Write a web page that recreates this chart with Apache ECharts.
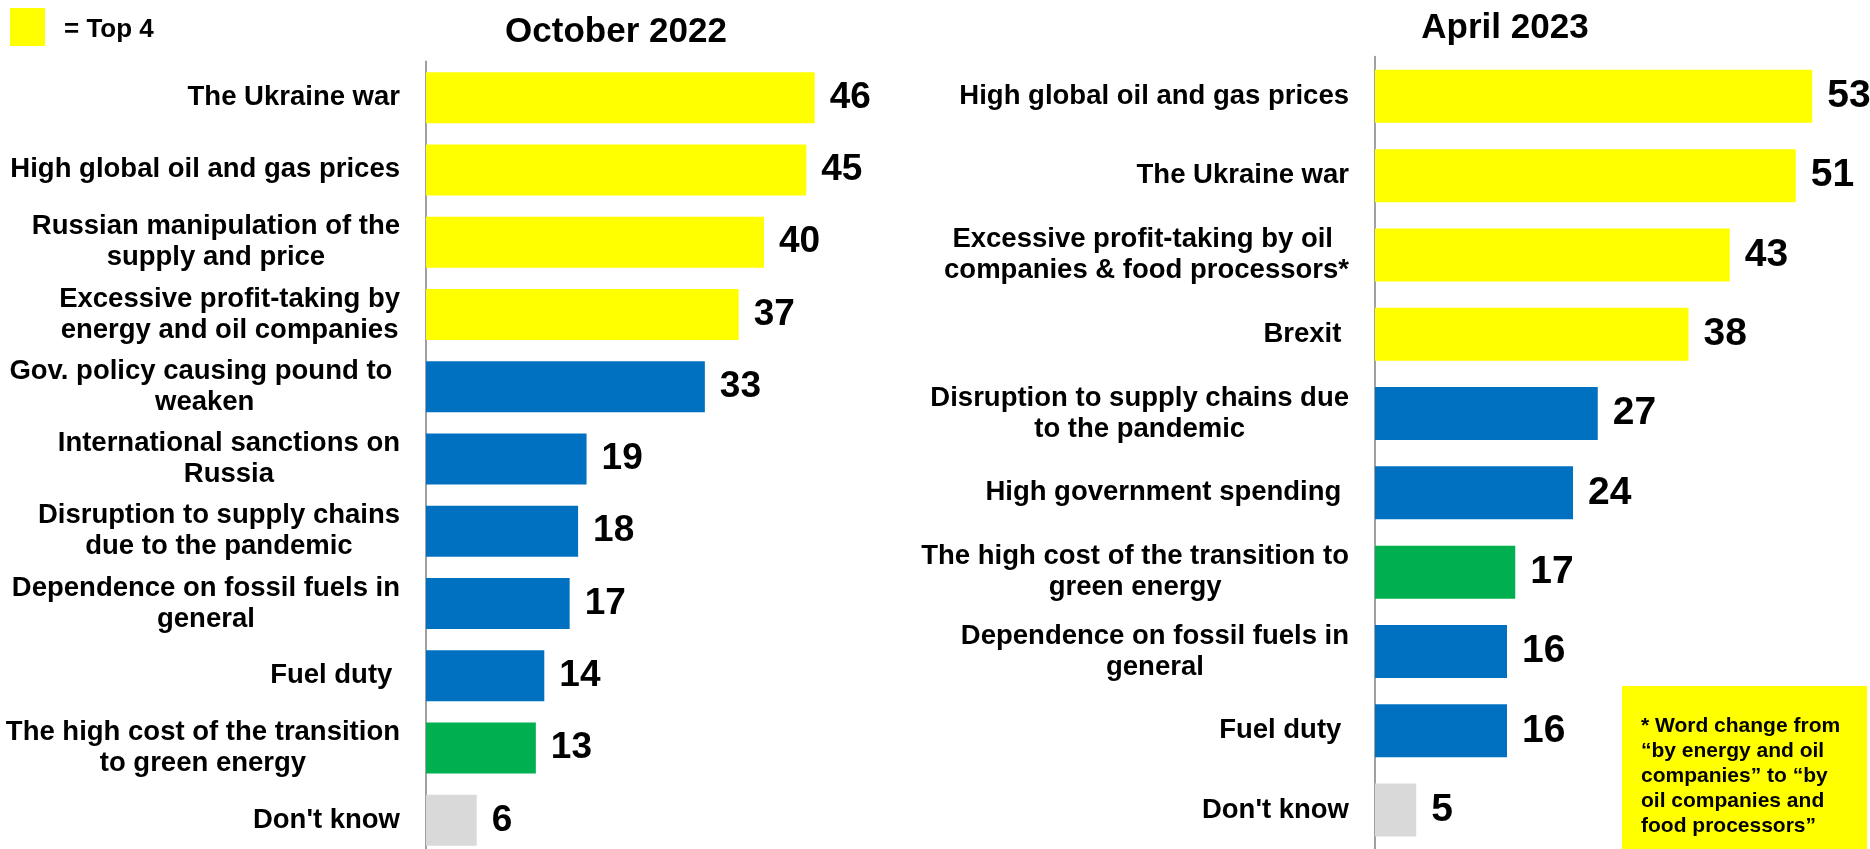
<!DOCTYPE html>
<html>
<head>
<meta charset="utf-8">
<script src="https://cdn.jsdelivr.net/npm/echarts@6/dist/echarts.min.js"></script>
<style>
    html, body { margin: 0; padding: 0; background: #fff; }
    #chart { width: 1870px; height: 849px; }
</style>
</head>
<body>
<div id="chart"></div>
<script>
// October 2022 wave
const octCategories = [
    'The Ukraine war',
    'High global oil and gas prices',
    'Russian manipulation of the\nsupply and price',
    'Excessive profit-taking by\nenergy and oil companies',
    'Gov. policy causing pound to \nweaken',
    'International sanctions on\nRussia',
    'Disruption to supply chains\ndue to the pandemic',
    'Dependence on fossil fuels in\ngeneral',
    'Fuel duty ',
    'The high cost of the transition\nto green energy',
    "Don't know"
]
const octValues = [46, 45, 40, 37, 33, 19, 18, 17, 14, 13, 6]

// April 2023 wave
const aprCategories = [
    'High global oil and gas prices',
    'The Ukraine war',
    'Excessive profit-taking by oil \ncompanies & food processors*',
    'Brexit ',
    'Disruption to supply chains due\nto the pandemic',
    'High government spending ',
    'The high cost of the transition to\ngreen energy',
    'Dependence on fossil fuels in\ngeneral',
    'Fuel duty ',
    "Don't know"
]
const aprValues = [53, 51, 43, 38, 27, 24, 17, 16, 16, 5]

const noteText = '* Word change from\n“by energy and oil\ncompanies” to “by\noil companies and\nfood processors”'

const FONT = "'Liberation Sans', Arial, sans-serif"

const barColor = (name, idx) => {
    if (idx < 4) return '#ffff00'
    if (name.indexOf('green energy') >= 0) return '#00b050'
    if (name.indexOf("Don't know") >= 0) return '#d9d9d9'
    return '#0070c0'
}

const centeredLines = v => v.split('\n').map(l => '{c|' + l + '}').join('\n')

const makeY = (cats, idx) => ({
    type: 'category',
    gridIndex: idx,
    inverse: true,
    data: cats,
    axisTick: { show: false },
    axisLine: { show: true, lineStyle: { color: '#a0a0a0', width: 2 } },
    axisLabel: {
        margin: 26,
        formatter: centeredLines,
        rich: {
            c: {
                align: 'center',
                fontFamily: FONT,
                fontWeight: 'bold',
                fontSize: 27.5,
                lineHeight: 31,
                color: '#000'
            }
        }
    }
})

const makeX = idx => ({
    type: 'value',
    gridIndex: idx,
    min: 0,
    max: 60,
    show: false,
    splitLine: { show: false }
})

const makeSeries = (cats, vals, idx, barW, labelSize) => ({
    type: 'bar',
    xAxisIndex: idx,
    yAxisIndex: idx,
    barWidth: barW,
    data: vals.map((v, i) => ({ value: v, itemStyle: { color: barColor(cats[i], i) } })),
    label: {
        show: true,
        position: 'right',
        distance: 15,
        fontFamily: FONT,
        fontWeight: 'bold',
        fontSize: labelSize,
        color: '#000'
    }
})

const chart = echarts.init(document.getElementById('chart'))

chart.setOption({
    animation: false,
    backgroundColor: '#fff',
    grid: [
        { left: 426, top: 61.5, width: 507, height: 795, outerBoundsMode: 'none', containLabel: false },
        { left: 1375, top: 56.7, width: 495, height: 793, outerBoundsMode: 'none', containLabel: false }
    ],
    xAxis: [makeX(0), makeX(1)],
    yAxis: [makeY(octCategories, 0), makeY(aprCategories, 1)],
    series: [
        makeSeries(octCategories, octValues, 0, 51, 37),
        makeSeries(aprCategories, aprValues, 1, 53, 39)
    ],
    graphic: [
        { type: 'rect', shape: { x: 10, y: 8, width: 35, height: 38 }, style: { fill: '#ffff00' } },
        {
            type: 'text', x: 64, y: 30,
            style: { text: '= Top 4', font: "bold 26px " + FONT, fill: '#000', verticalAlign: 'middle' }
        },
        {
            type: 'text', x: 616, y: 32,
            style: { text: 'October 2022', font: "bold 35px " + FONT, fill: '#000', align: 'center', verticalAlign: 'middle' }
        },
        {
            type: 'text', x: 1505, y: 28,
            style: { text: 'April 2023', font: "bold 35px " + FONT, fill: '#000', align: 'center', verticalAlign: 'middle' }
        },
        { type: 'rect', shape: { x: 1622, y: 686, width: 245, height: 170 }, style: { fill: '#ffff00' } },
        {
            type: 'text', x: 1641, y: 714,
            style: { text: noteText, font: "bold 21px " + FONT, lineHeight: 25, fill: '#000', verticalAlign: 'top' }
        }
    ]
})
</script>
</body>
</html>
